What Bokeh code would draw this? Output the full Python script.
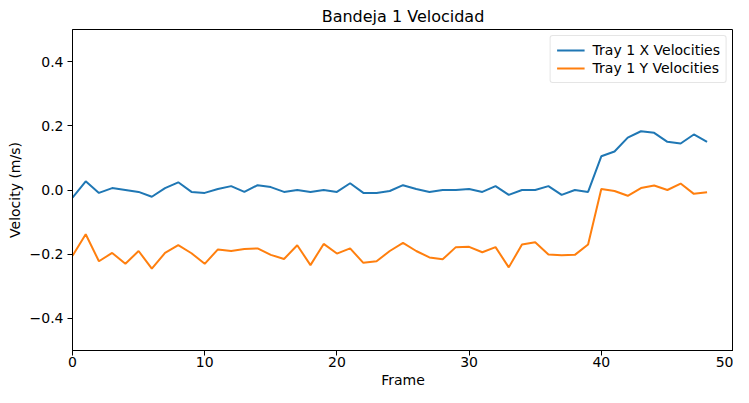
from bokeh.plotting import figure
from bokeh.models import FixedTicker, Range1d, Legend, LegendItem, Title
from bokeh.embed import file_html
from bokeh.resources import INLINE

frames = list(range(49))
x_vel = [-0.024, 0.027, -0.009, 0.006, 0.0, -0.006, -0.021, 0.006, 0.024, -0.006,
         -0.009, 0.003, 0.012, -0.006, 0.015, 0.009, -0.006, 0.0, -0.006, 0.0,
         -0.006, 0.021, -0.009, -0.009, -0.003, 0.015, 0.003, -0.006, 0.0, 0.0,
         0.003, -0.006, 0.012, -0.015, 0.0, 0.0, 0.012, -0.015, 0.0, -0.006,
         0.105, 0.12, 0.163, 0.183, 0.178, 0.150, 0.145, 0.173, 0.150]
y_vel = [-0.205, -0.138, -0.222, -0.196, -0.23, -0.19, -0.245, -0.196, -0.172, -0.197,
         -0.23, -0.185, -0.19, -0.184, -0.182, -0.202, -0.215, -0.172, -0.234, -0.168,
         -0.198, -0.182, -0.227, -0.222, -0.19, -0.165, -0.19, -0.21, -0.216, -0.178,
         -0.177, -0.194, -0.178, -0.241, -0.17, -0.163, -0.201, -0.203, -0.202, -0.17,
         0.003, -0.003, -0.018, 0.006, 0.014, 0.0, 0.02, -0.012, -0.007]
x_ticks = [0, 10, 20, 30, 40, 50]
y_ticks = [-0.4, -0.2, 0.0, 0.2, 0.4]
y_tick_labels = {-0.4: "\u22120.4", -0.2: "\u22120.2", 0.0: "0.0", 0.2: "0.2", 0.4: "0.4"}
x_label = "Frame"
y_label = "Velocity (m/s)"

FONT = "DejaVu Sans"

p = figure(width=733, height=387, output_backend="svg", toolbar_location=None,
           x_range=Range1d(0, 50), y_range=Range1d(-0.5, 0.5),
           title="Bandeja 1 Velocidad", min_border_left=0, min_border_right=0,
           min_border_bottom=0, min_border_top=0)
p.title.align = "center"
p.title.text_font = FONT
p.title.text_font_size = "16px"
p.title.text_font_style = "normal"
p.title.text_color = "black"
p.title.standoff = 8

p.xgrid.visible = False
p.ygrid.visible = False
p.outline_line_color = "black"
p.outline_line_alpha = 1
p.outline_line_width = 1

for ax in (p.xaxis[0], p.yaxis[0]):
    ax.minor_tick_line_color = None
    ax.major_tick_out = 5
    ax.major_tick_in = 0
    ax.major_label_text_font = FONT
    ax.major_label_text_font_size = "14px"
    ax.major_label_text_color = "black"
    ax.axis_line_color = "black"
    ax.major_tick_line_color = "black"

p.xaxis[0].ticker = FixedTicker(ticks=x_ticks)
p.yaxis[0].ticker = FixedTicker(ticks=y_ticks)
p.yaxis[0].major_label_overrides = y_tick_labels
p.xaxis[0].major_label_standoff = 1
p.yaxis[0].major_label_standoff = 4

p.add_layout(Title(text=x_label, align="center", text_font=FONT, text_font_size="14px",
                   text_font_style="normal", text_color="black", standoff=0, offset=0),
             "below")
p.add_layout(Title(text=y_label, align="center", text_font=FONT, text_font_size="14px",
                   text_font_style="normal", text_color="black", standoff=8, offset=0),
             "left")

r1 = p.line(frames, x_vel, line_color="#1f77b4", line_width=2)
r2 = p.line(frames, y_vel, line_color="#ff7f0e", line_width=2)

legend = Legend(items=[LegendItem(label="Tray 1 X Velocities", renderers=[r1]),
                       LegendItem(label="Tray 1 Y Velocities", renderers=[r2])],
                location="top_right")
legend.label_text_font = FONT
legend.label_text_font_size = "14px"
legend.label_text_color = "black"
legend.border_line_color = "#cccccc"
legend.border_line_width = 1
legend.border_radius = 3
legend.glyph_width = 28
legend.glyph_height = 14
legend.label_height = 14
legend.spacing = 2
legend.padding = 6
legend.margin = 6
legend.label_standoff = 8
p.add_layout(legend)

open("out.html", "w").write(file_html(p, INLINE))
